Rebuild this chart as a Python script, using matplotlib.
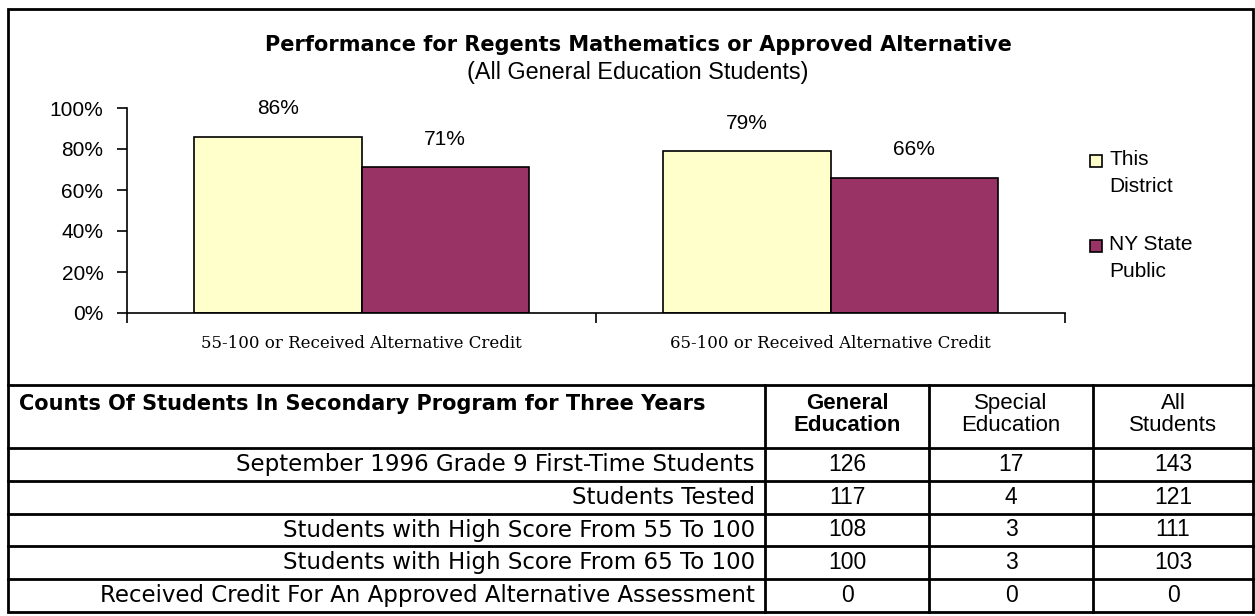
import numpy as np
import matplotlib
matplotlib.use("Agg")
import matplotlib.pyplot as plt
from matplotlib.patches import Rectangle

# ---------------- data ----------------
categories = ["55-100 or Received Alternative Credit",
              "65-100 or Received Alternative Credit"]
district = [86, 79]
state = [71, 66]
series_names = ["This\nDistrict", "NY State\nPublic"]
yticks = [0, 20, 40, 60, 80, 100]
title = "Performance for Regents Mathematics or Approved Alternative"
subtitle = "(All General Education Students)"

table_title = "Counts Of Students In Secondary Program for Three Years"
col_headers = ["General\nEducation", "Special\nEducation", "All\nStudents"]
row_labels = ["September 1996 Grade 9 First-Time Students",
              "Students Tested",
              "Students with High Score From 55 To 100",
              "Students with High Score From 65 To 100",
              "Received Credit For An Approved Alternative Assessment"]
gen_ed = [126, 117, 108, 100, 0]
spec_ed = [17, 4, 3, 3, 0]
all_students = [143, 121, 111, 103, 0]

# ---------------- layout ----------------
plt.rcParams['font.family'] = ['Liberation Sans', 'DejaVu Sans']
W, H = 1255, 616
fig = plt.figure(figsize=(W / 100, H / 100), dpi=100)


def fx(px):
    return px / W


def fy(py):
    return 1 - py / H


YELLOW = '#FFFFCC'
PURPLE = '#993366'
WIDE = ['DejaVu Sans']

# outer border
fig.patches.append(Rectangle((fx(8), fy(612)), fx(1253) - fx(8), fy(9) - fy(612),
                             transform=fig.transFigure, fill=False,
                             edgecolor='black', linewidth=2))

# titles
fig.text(fx(638), fy(45), title, ha='center', va='center', fontsize=15,
         fontweight='bold', family=WIDE)
fig.text(fx(638), fy(73), subtitle, ha='center', va='center', fontsize=16.8)

# bar chart
ax = fig.add_axes([fx(127), fy(313), fx(1065) - fx(127), fy(108) - fy(313)])
x = np.arange(len(categories))
w = 0.357
b1 = ax.bar(x - w / 2, district, w, color=YELLOW, edgecolor='black',
            linewidth=1.2)
b2 = ax.bar(x + w / 2, state, w, color=PURPLE, edgecolor='black',
            linewidth=1.2)
for bars, vals in ((b1, district), (b2, state)):
    for r, v in zip(bars, vals):
        ax.annotate(f"{v}%", (r.get_x() + r.get_width() / 2, v),
                    xytext=(0, 28), textcoords='offset pixels',
                    ha='center', va='center', fontsize=15)
ax.set_xlim(-0.5, len(categories) - 0.5)
ax.set_ylim(0, 100)
ax.set_yticks(yticks)
ax.set_yticklabels([f"{t}%" for t in yticks], fontsize=15)
ax.set_xticks(x)
ax.set_xticklabels(categories, fontsize=12, family=['DejaVu Serif'])
ax.set_xticks(np.arange(len(categories) + 1) - 0.5, minor=True)
ax.tick_params(axis='x', which='major', length=0, pad=16)
ax.tick_params(axis='x', which='minor', length=7, width=1.2, direction='out')
ax.tick_params(axis='y', length=7, width=1.2, direction='out', pad=10)
for s in ('top', 'right'):
    ax.spines[s].set_visible(False)
for s in ('left', 'bottom'):
    ax.spines[s].set_linewidth(1.2)

# legend (square aligned with the first line of each label)
leg_colors = [YELLOW, PURPLE]
leg_first_line = [161, 246]
for name, col, yline in zip(series_names, leg_colors, leg_first_line):
    fig.patches.append(Rectangle((fx(1090), fy(yline + 6)), fx(12), 12 / H,
                                 transform=fig.transFigure, facecolor=col,
                                 edgecolor='black', linewidth=1.2))
    fig.text(fx(1109), fy(yline - 11), name, ha='left', va='top',
             fontsize=15, linespacing=1.55)

# ---------------- table ----------------
tx0, tx1, ty0, ty1 = 8, 1253, 385, 612
tax = fig.add_axes([fx(tx0), fy(ty1), fx(tx1) - fx(tx0), fy(ty0) - fy(ty1)])
tax.set_xlim(tx0, tx1)
tax.set_ylim(ty1, ty0)
tax.axis('off')

col_edges = [765, 929, 1093, tx1]
header_bottom = 448
n_rows = len(row_labels)
row_h = (ty1 - header_bottom) / n_rows
row_edges = [header_bottom + i * row_h for i in range(n_rows + 1)]

lw = 2
tax.plot([tx0, tx1], [ty0, ty0], color='black', lw=lw, clip_on=False)
for yy in row_edges[:-1]:
    tax.plot([tx0, tx1], [yy, yy], color='black', lw=lw, clip_on=False)
for xx in col_edges[:-1]:
    tax.plot([xx, xx], [ty0, ty1], color='black', lw=lw, clip_on=False)

tax.text(19, 404, table_title, ha='left', va='center', fontsize=15,
         fontweight='bold', family=WIDE)
for j, hdr in enumerate(col_headers):
    cx = (col_edges[j] + col_edges[j + 1]) / 2
    tax.text(cx, (ty0 + header_bottom) / 2 - 2, hdr, ha='center', va='center',
             fontsize=16, fontweight='bold' if j == 0 else 'normal',
             linespacing=1.1)

cols = [gen_ed, spec_ed, all_students]
for i, lab in enumerate(row_labels):
    cy = (row_edges[i] + row_edges[i + 1]) / 2
    tax.text(col_edges[0] - 10, cy, lab, ha='right', va='center', fontsize=16.5,
             family=WIDE)
    for j, col in enumerate(cols):
        cx = (col_edges[j] + col_edges[j + 1]) / 2
        tax.text(cx, cy, str(col[i]), ha='center', va='center', fontsize=16.5)

fig.savefig("out.png", dpi=100)
